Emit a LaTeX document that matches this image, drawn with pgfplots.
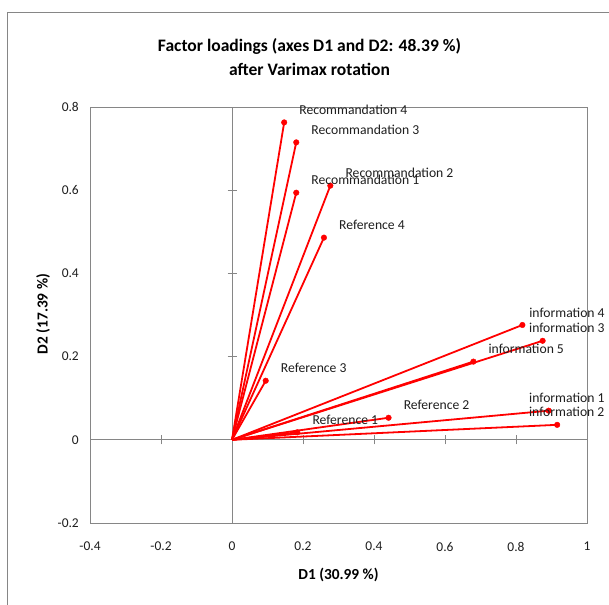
\documentclass[border=0pt]{standalone}
\usepackage{pgfplots}
\pgfplotsset{compat=1.18}
\usepackage{pgfplotstable}
\usepackage{fontspec}
\setmainfont{Carlito}
\definecolor{axgray}{RGB}{134,134,134}
\definecolor{txt}{RGB}{30,30,30}

\pgfplotstableread{
x y dx label
0.147 0.763 15 {Recommandation 4}
0.181 0.715 15 {Recommandation 3}
0.277 0.611 15 {Recommandation 2}
0.181 0.594 15 {Recommandation 1}
0.259 0.486 15 {Reference 4}
0.095 0.142 15 {Reference 3}
0.441 0.053 15 {Reference 2}
0.184 0.018 15 {Reference 1}
0.892 0.070 -19.7 {information 1}
0.916 0.036 -28.3 {information 2}
0.875 0.238 -13.7 {information 3}
0.818 0.276 6.7 {information 4}
0.680 0.188 15 {information 5}
}\loadings

\begin{document}
\begin{tikzpicture}
\useasboundingbox (0bp,0bp) rectangle (609bp,-605bp);
\draw[axgray, line width=1bp] (7bp,-605bp) -- (7bp,-12bp) -- (609bp,-12bp);
% zero lines with crossing ticks
\begin{axis}[
  at={(90bp,-523bp)}, anchor=south west,
  scale only axis, width=497bp, height=416bp,
  xmin=-0.4, xmax=1, ymin=-0.2, ymax=0.8,
  axis lines=middle,
  axis line style={axgray, line width=0.8bp},
  every inner x axis line/.append style={-},
  every inner y axis line/.append style={-},
  tick style={axgray, line width=0.8bp},
  tick align=center,
  major tick length=9bp,
  xtick={-0.4,-0.2,0,0.2,0.4,0.6,0.8,1},
  ytick={-0.2,0,0.2,0.4,0.6,0.8},
  xticklabels={}, yticklabels={},
]
\end{axis}
\begin{axis}[
  at={(90bp,-523bp)}, anchor=south west,
  scale only axis, width=497bp, height=416bp,
  xmin=-0.4, xmax=1, ymin=-0.2, ymax=0.8,
  axis line style={axgray, line width=0.8bp},
  tick style={draw=none},
  major tick length=0pt,
  xtick={-0.4,-0.2,0,0.2,0.4,0.6,0.8,1},
  ytick={-0.2,0,0.2,0.4,0.6,0.8},
  /pgf/number format/assume math mode=true,
  xticklabel style={anchor=north, inner sep=0pt, yshift=-19bp, text=txt, font=\fontsize{13.5}{16}\selectfont},
  yticklabel style={anchor=east, inner sep=0pt, xshift=-11bp, text=txt, font=\fontsize{13.5}{16}\selectfont},
  clip=false,
]
\addplot[red, line width=1.8bp, quiver={u=\thisrow{x}, v=\thisrow{y}}] table[x expr=0, y expr=0] {\loadings};
\addplot[only marks, mark=*, mark size=2.8bp, red,
  nodes near coords, point meta=explicit symbolic,
  visualization depends on={\thisrow{dx} \as \labdx},
  every node near coord/.append style={anchor=west, inner sep=0pt, xshift=\labdx bp, yshift=12.5bp, text=txt, font=\fontsize{13.7}{16}\selectfont}]
  table[x=x, y=y, meta=label] {\loadings};
\end{axis}
\node[align=center, inner sep=0pt, text=black, font=\bfseries\fontsize{17.6}{24}\selectfont] at (309.5bp,-57bp) {Factor loadings (axes D1 and D2: 48.39 \%)\\after Varimax rotation};
\node[inner sep=0pt, text=black, font=\bfseries\fontsize{15.4}{16}\selectfont] at (338.5bp,-575bp) {D1 (30.99 \%)};
\node[inner sep=0pt, rotate=90, text=black, font=\bfseries\fontsize{15.4}{16}\selectfont] at (43bp,-314bp) {D2 (17.39 \%)};
\end{tikzpicture}
\end{document}
